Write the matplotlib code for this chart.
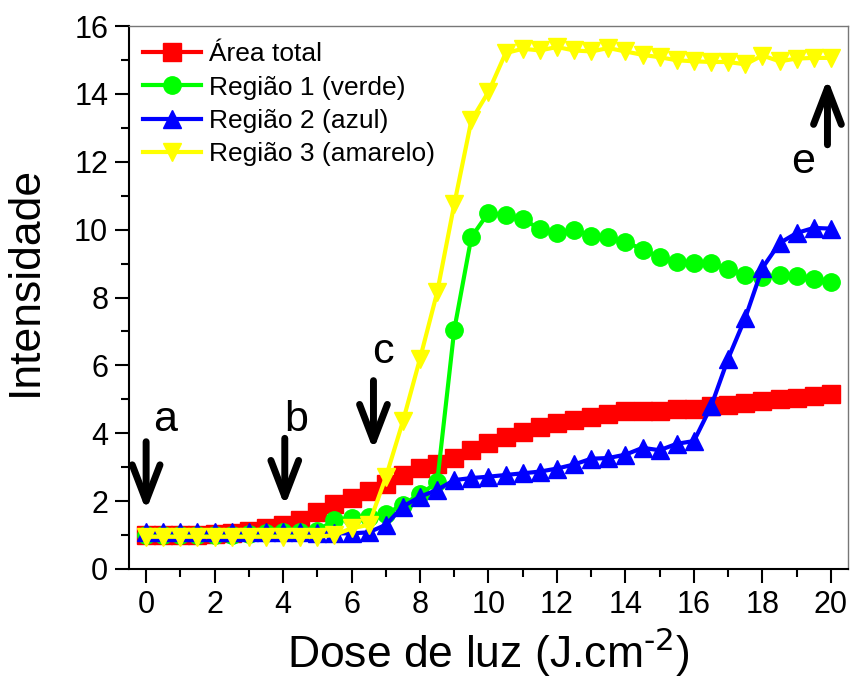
# -*- coding: utf-8 -*-

import matplotlib
matplotlib.use('Agg')
import matplotlib.pyplot as plt
from matplotlib.ticker import MultipleLocator

plt.rcParams['font.family'] = ['Liberation Sans', 'DejaVu Sans']
plt.rcParams['mathtext.default'] = 'regular'

# Dose de luz (J/cm2), passo de 0.5
dose = [0, 0.5, 1, 1.5, 2, 2.5, 3, 3.5, 4, 4.5, 5, 5.5, 6, 6.5, 7, 7.5, 8,
        8.5, 9, 9.5, 10, 10.5, 11, 11.5, 12, 12.5, 13, 13.5, 14, 14.5, 15,
        15.5, 16, 16.5, 17, 17.5, 18, 18.5, 19, 19.5, 20]

area_total = [1.0, 1.0, 1.0, 1.0, 1.02, 1.05, 1.12, 1.2, 1.3, 1.45, 1.68, 1.92,
              2.1, 2.3, 2.5, 2.76, 2.97, 3.1, 3.28, 3.5, 3.7, 3.9, 4.05, 4.17,
              4.29, 4.39, 4.48, 4.58, 4.66, 4.66, 4.66, 4.7, 4.7, 4.8, 4.84,
              4.9, 4.96, 5.0, 5.05, 5.1, 5.16]

regiao1 = [1.0, 1.0, 1.0, 1.0, 1.0, 1.0, 1.02, 1.05, 1.08, 1.1, 1.12, 1.45,
           1.5, 1.54, 1.62, 1.9, 2.2, 2.55, 7.05, 9.78, 10.5, 10.43, 10.31,
           10.02, 9.9, 9.99, 9.82, 9.77, 9.65, 9.41, 9.2, 9.04, 9.02, 9.02,
           8.83, 8.66, 8.59, 8.66, 8.64, 8.54, 8.47]

regiao2 = [1.08, 1.08, 1.08, 1.08, 1.08, 1.08, 1.08, 1.08, 1.08, 1.08, 1.06,
           1.05, 1.05, 1.08, 1.3, 1.84, 2.13, 2.33, 2.62, 2.68, 2.72, 2.77,
           2.82, 2.87, 2.96, 3.08, 3.25, 3.27, 3.37, 3.57, 3.5, 3.69, 3.77,
           4.79, 6.2, 7.4, 8.87, 9.6, 9.9, 10.05, 10.03]

regiao3 = [0.95, 0.95, 0.95, 0.95, 0.95, 0.95, 0.95, 0.95, 0.95, 0.95, 0.95,
           1.0, 1.2, 1.3, 2.7, 4.35, 6.2, 8.15, 10.75, 13.22, 14.06, 15.2,
           15.33, 15.28, 15.38, 15.28, 15.25, 15.35, 15.25, 15.15, 15.08,
           14.99, 14.96, 14.94, 14.94, 14.87, 15.13, 14.96, 15.04, 15.06, 15.06]

series = [
    (area_total, '#ff0000', 's', 'Área total'),
    (regiao1, '#00ff00', 'o', 'Região 1 (verde)'),
    (regiao2, '#0000ff', '^', 'Região 2 (azul)'),
    (regiao3, '#ffff00', 'v', 'Região 3 (amarelo)'),
]

# setas: (x, y cauda, y ponta, letra, x letra, y letra)
setas = [
    (0.0, 3.75, 1.72, 'a', 0.55, 4.4),
    (4.05, 3.85, 1.85, 'b', 4.37, 4.4),
    (6.64, 5.55, 3.5, 'c', 6.92, 6.4),
    (19.9, 12.5, 14.45, 'e', 19.2, 12.0),
]

fig = plt.figure(figsize=(8.53, 6.86), dpi=100)
ax = fig.add_axes([129 / 853, 1 - 569 / 686, 719 / 853, 543 / 686])

for valores, cor, marca, nome in series:
    ax.plot(dose, valores, color=cor, marker=marca, markersize=12.5, lw=3,
            markeredgecolor=cor, markeredgewidth=1, label=nome)

for x, y0, y1, letra, xl, yl in setas:
    ax.annotate('', xy=(x, y1), xytext=(x, y0),
                arrowprops=dict(arrowstyle='->,head_length=1.3,head_width=0.5',
                                lw=5, color='k', mutation_scale=20,
                                shrinkA=0, shrinkB=0))
    ax.text(xl, yl, letra, fontsize=31, ha='center', va='center')

ax.set_xlim(-0.5, 20.5)
ax.set_ylim(0, 16)
ax.xaxis.set_major_locator(MultipleLocator(2))
ax.xaxis.set_minor_locator(MultipleLocator(1))
ax.yaxis.set_major_locator(MultipleLocator(2))
ax.yaxis.set_minor_locator(MultipleLocator(1))
ax.tick_params(which='both', direction='out', width=1.5, labelsize=22,
               top=False, right=False)
ax.tick_params(which='major', length=10, pad=5)
ax.tick_params(which='minor', length=5.5)

for lado in ['left', 'bottom']:
    ax.spines[lado].set_linewidth(1.5)
for lado in ['top', 'right']:
    ax.spines[lado].set_color('#777777')
    ax.spines[lado].set_linewidth(1)

ax.set_xlabel(r'Dose de luz (J.cm$^{\text{-2}}$)', fontsize=32, labelpad=4)
ax.set_ylabel('Intensidade', fontsize=32)
ax.yaxis.set_label_coords(-0.115, 0.53)

ax.legend(loc='upper left', bbox_to_anchor=(0.019, 0.97), frameon=False,
          fontsize=19, numpoints=1, handlelength=2.2, handletextpad=0.3,
          labelspacing=0.35, borderpad=0, borderaxespad=0)

plt.savefig('out.png', dpi=100)
